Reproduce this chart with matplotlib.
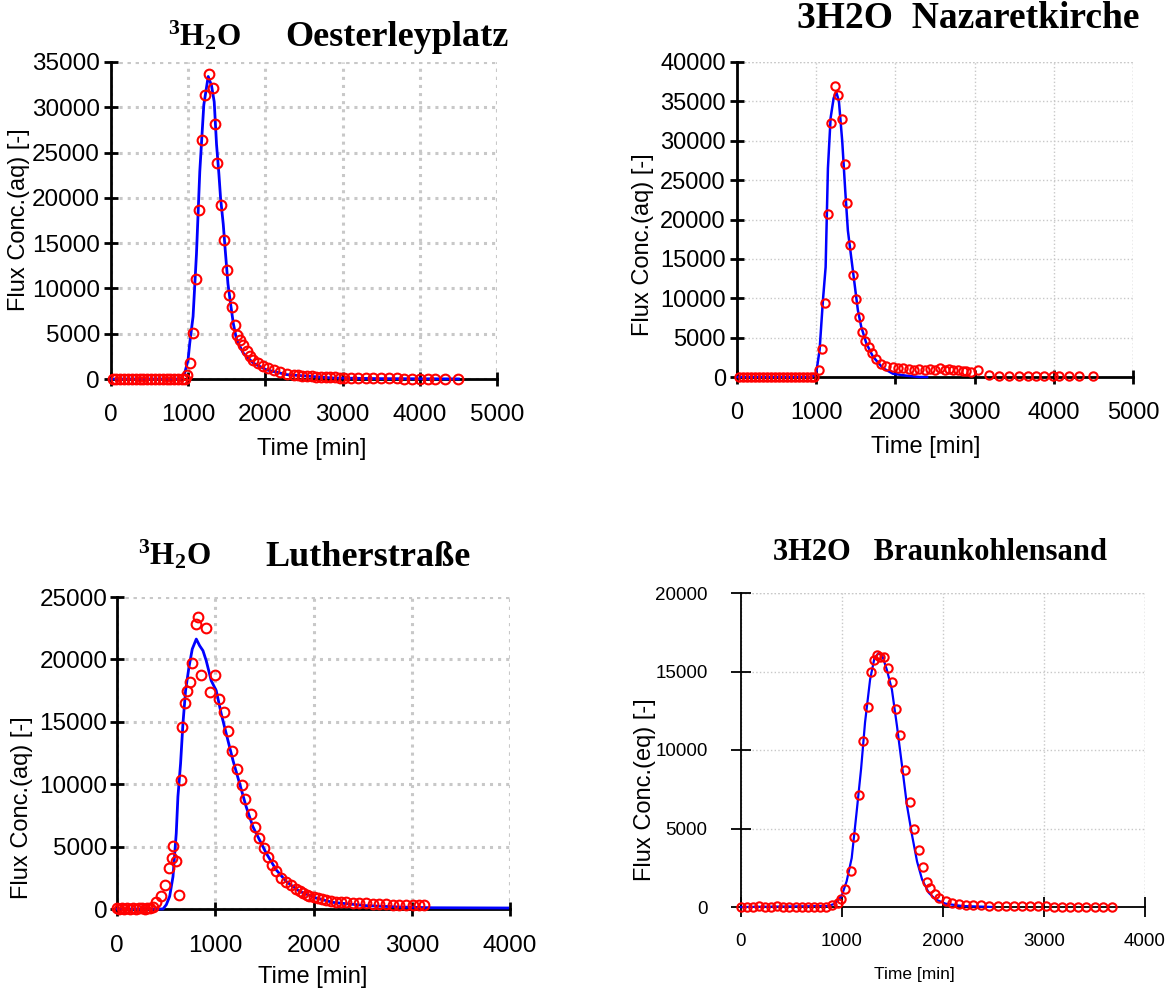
import matplotlib
matplotlib.use("Agg")
import matplotlib.pyplot as plt

plt.rcParams["font.family"] = ["Liberation Sans", "DejaVu Sans"]
plt.rcParams["mathtext.fontset"] = "custom"
plt.rcParams["mathtext.rm"] = "Liberation Serif"
plt.rcParams["mathtext.bf"] = "Liberation Serif:bold"

# --- Oesterleyplatz ---
obs_t_oest = [20, 70, 120, 170, 220, 270, 320, 370, 420, 470, 520, 570, 620, 670, 720, 770,
              820, 870, 920, 960, 985, 1020, 1063, 1107, 1141, 1176, 1215, 1263, 1315, 1350,
              1376, 1428, 1467, 1497, 1523, 1562, 1606, 1628, 1671, 1714, 1758, 1801, 1845,
              1910, 1975, 2040, 2105, 2192, 2279, 2365, 2420, 2480, 2540, 2600, 2660, 2720,
              2780, 2840, 2900, 2960, 3020, 3110, 3200, 3300, 3400, 3500, 3600, 3700, 3800,
              3900, 4000, 4100, 4200, 4330, 4490]
obs_c_oest = [0, 0, 0, 0, 0, 0, 0, 0, 0, 0, 0, 0, 0, 0, 0, 0,
              0, 0, 0, 0, 475, 1750, 5040, 11000, 18700, 26400, 31400, 33700, 32100, 28200,
              23900, 19250, 15300, 12050, 9250, 7950, 5950, 4850, 4300, 3750, 3050, 2500, 2100,
              1750, 1400, 1200, 950, 730, 590, 480, 400, 350, 320, 280, 250, 230,
              210, 190, 170, 150, 140, 120, 110, 100, 90, 80, 70, 60, 50,
              45, 40, 35, 30, 25, 20]
mod_t_oest = [0, 900, 955, 998, 1020, 1063, 1107, 1150, 1202, 1259, 1302, 1337, 1367, 1398,
              1419, 1454, 1480, 1515, 1549, 1584, 1628, 1714, 1845, 2018, 2279, 2886, 3500, 4500]
mod_c_oest = [0, 0, 660, 2100, 3950, 6900, 13800, 22900, 30250, 33400, 32400, 30600, 25900,
              22600, 20000, 17100, 14200, 10500, 8300, 6150, 4300, 2850, 1750, 1000, 480, 110, 40, 10]

# --- Nazaretkirche ---
obs_t_naz = [30, 80, 130, 180, 230, 280, 330, 380, 430, 480, 530, 580, 630, 680, 730, 780,
             830, 880, 930, 970, 1034, 1077, 1114, 1152, 1182, 1232, 1274, 1320, 1358, 1383,
             1430, 1468, 1505, 1543, 1581, 1619, 1661, 1703, 1758, 1821, 1884, 1968, 2030,
             2100, 2170, 2240, 2304, 2370, 2440, 2500, 2557, 2620, 2680, 2725, 2790, 2850,
             2893, 2960, 3040, 3187, 3313, 3440, 3566, 3671, 3776, 3881, 3987, 4071, 4197,
             4323, 4491]
obs_c_naz = [0, 0, 0, 0, 0, 0, 0, 0, 0, 0, 0, 0, 0, 0, 0, 0,
             0, 0, 0, 0, 840, 3570, 9450, 20700, 32200, 36900, 35800, 32700, 27000, 22100,
             16800, 13000, 9900, 7650, 5750, 4600, 3750, 3050, 2250, 1700, 1450, 1250, 1150,
             1100, 1000, 950, 1000, 900, 1050, 950, 1150, 900, 1000, 850, 900, 750,
             700, 650, 850, 200, 180, 160, 150, 130, 120, 110, 100, 90, 80,
             75, 70]
mod_t_naz = [0, 950, 1000, 1043, 1085, 1119, 1148, 1182, 1220, 1253, 1287, 1329, 1367, 1400,
             1442, 1484, 1526, 1568, 1632, 1716, 1842, 1968, 2136, 2304, 2400]
mod_c_naz = [0, 0, 500, 3450, 9750, 13950, 26500, 32900, 35400, 36200, 35000, 29900, 23600,
             18600, 15200, 11850, 8500, 6400, 4300, 2600, 1130, 420, 170, 0, 0]

# --- Lutherstrasse ---
obs_t_luth = [0, 25, 50, 75, 100, 130, 160, 190, 220, 250, 280, 310, 340, 370, 400, 444,
              492, 525, 563, 569, 597, 631, 647, 664, 692, 715, 739, 759, 807, 827, 858, 902,
              942, 993, 1037, 1088, 1129, 1173, 1224, 1271, 1305, 1359, 1403, 1444, 1492,
              1539, 1580, 1620, 1671, 1722, 1773, 1824, 1860, 1892, 1930, 1959, 2000, 2044,
              2085, 2129, 2180, 2231, 2280, 2332, 2400, 2468, 2530, 2604, 2670, 2739, 2810,
              2875, 2940, 3010, 3070, 3129]
obs_c_luth = [50, 0, 100, 0, 80, 0, 120, 0, 60, 100, 0, 80, 50, 150, 530, 1010,
              1940, 3270, 4070, 5050, 3860, 1090, 10300, 14600, 16500, 17500, 18200, 19750,
              22800, 23400, 18750, 22500, 17400, 18750, 16800, 15750, 14250, 12700, 11200,
              9900, 8800, 7650, 6550, 5700, 4900, 4150, 3550, 3050, 2450, 2200, 1950, 1600,
              1450, 1300, 1150, 1050, 950, 880, 800, 750, 680, 600, 560, 530, 500, 480, 450,
              430, 400, 370, 350, 340, 330, 320, 300, 290]
mod_t_luth = [0, 468, 502, 536, 570, 603, 620, 647, 671, 698, 732, 766, 807, 841, 875, 908,
              959, 1010, 1061, 1112, 1180, 1248, 1315, 1383, 1451, 1519, 1620, 1722, 1858,
              2027, 2197, 2536, 2875, 3214, 3976]
mod_c_luth = [0, 0, 345, 1010, 2600, 6060, 9000, 11650, 14840, 17500, 19360, 20830, 21630,
              21100, 20700, 19900, 18300, 17500, 15640, 14040, 11920, 10050, 8190, 6600,
              5530, 4470, 3140, 2210, 1410, 880, 530, 270, 160, 100, 80]

# --- Braunkohlensand ---
obs_t_brk = [0, 60, 120, 180, 240, 300, 360, 420, 480, 540, 600, 660, 720, 780, 840, 900,
             963, 989, 1029, 1086, 1122, 1169, 1205, 1255, 1285, 1318, 1351, 1378, 1418, 1454,
             1494, 1537, 1577, 1627, 1670, 1716, 1760, 1799, 1843, 1876, 1919, 1965, 2025,
             2092, 2160, 2230, 2300, 2380, 2460, 2540, 2620, 2700, 2780, 2860, 2940, 3020,
             3100, 3180, 3260, 3340, 3420, 3500, 3580, 3669]
obs_c_brk = [0, 0, 0, 50, 0, 0, 50, 0, 0, 0, 0, 0, 0, 0, 0, 100,
             270, 480, 1120, 2270, 4480, 7160, 10600, 12750, 14950, 15750, 16050, 15900,
             15900, 15200, 14300, 12600, 10950, 8750, 6700, 4950, 3650, 2550, 1600, 1200,
             800, 550, 380, 270, 200, 150, 120, 100, 90, 80, 70, 60, 50, 50, 40, 40,
             30, 30, 30, 20, 20, 20, 10, 10]
mod_t_brk = [0, 863, 930, 996, 1046, 1096, 1145, 1189, 1228, 1278, 1321, 1361, 1401, 1444,
             1494, 1544, 1594, 1643, 1693, 1743, 1793, 1859, 1926, 2025, 2191, 2500]
mod_c_brk = [0, 63, 210, 695, 1640, 3115, 6060, 8800, 11750, 14480, 15850, 16170, 15960,
             15110, 13850, 11540, 9010, 6480, 4590, 2900, 1750, 905, 484, 210, 63, 0]

W, H = 1175, 992
fig = plt.figure(figsize=(W / 100, H / 100), dpi=100)


def px_box(left, top, right, bottom):
    return [left / W, 1 - bottom / H, (right - left) / W, (bottom - top) / H]


def px(x, y):
    return x / W, 1 - y / H


def panel(box, t_obs, c_obs, t_mod, c_mod, xmax, ymax, ystep, fs, grid_lw, lw, ms,
          xpad, ypad, ticklen):
    ax = fig.add_axes(px_box(*box))
    ax.plot(t_mod, c_mod, color="#0000ff", lw=lw, zorder=3, clip_on=False)
    ax.plot(t_obs, c_obs, ls="none", marker="o", ms=ms, mfc="none", mec="#ff0000",
            mew=1.5, zorder=4, clip_on=False)
    ax.set_xlim(0, xmax)
    ax.set_ylim(0, ymax)
    ax.set_xticks(range(0, xmax + 1, 1000))
    ax.set_yticks(range(0, ymax + 1, ystep))
    for s in ("top", "right"):
        ax.spines[s].set_visible(False)
    thick = 2 if fs > 15 else 1.3
    for s in ("left", "bottom"):
        ax.spines[s].set_linewidth(thick)
    ax.grid(True, color="#c8c8c8", linestyle=":", linewidth=grid_lw, zorder=0)
    ax.plot([0, xmax], [ymax, ymax], color="#c8c8c8", ls=":", lw=grid_lw, zorder=0)
    ax.plot([xmax, xmax], [0, ymax], color="#c8c8c8", ls=":", lw=grid_lw, zorder=0)
    ax.tick_params(direction="inout", length=ticklen, width=thick, labelsize=fs)
    ax.tick_params(axis="x", pad=xpad)
    ax.tick_params(axis="y", pad=ypad)
    return ax


ax1 = panel((111, 62, 497, 379), obs_t_oest, obs_c_oest, mod_t_oest, mod_c_oest,
            5000, 35000, 5000, 17.5, 2.2, 2.0, 7, 13, 3, 10)
ax2 = panel((737, 62, 1133, 377), obs_t_naz, obs_c_naz, mod_t_naz, mod_c_naz,
            5000, 40000, 5000, 17, 1.0, 1.8, 6, 13, 3, 10)
ax3 = panel((117, 597, 510, 909), obs_t_luth, obs_c_luth, mod_t_luth, mod_c_luth,
            4000, 25000, 5000, 17.5, 2.2, 2.0, 7, 14, 2, 10)
ax4 = panel((741, 593, 1145, 907), obs_t_brk, obs_c_brk, mod_t_brk, mod_c_brk,
            4000, 20000, 5000, 13.5, 1.0, 1.6, 6, 12, 17, 14)

# axis labels
fig.text(*px(312, 449), "Time [min]", fontsize=17, ha="center", va="center")
fig.text(*px(926, 447), "Time [min]", fontsize=17, ha="center", va="center")
fig.text(*px(313, 977), "Time [min]", fontsize=17, ha="center", va="center")
fig.text(*px(914, 975), "Time [min]", fontsize=12.5, ha="center", va="center")
fig.text(*px(19, 220), "Flux Conc.(aq) [-]", fontsize=17, rotation=90, ha="center", va="center")
fig.text(*px(643, 245), "Flux Conc.(aq) [-]", fontsize=17, rotation=90, ha="center", va="center")
fig.text(*px(22, 808), "Flux Conc.(aq) [-]", fontsize=17, rotation=90, ha="center", va="center")
fig.text(*px(645, 790), "Flux Conc.(eq) [-]", fontsize=17, rotation=90, ha="center", va="center")

# titles
serif = ["Liberation Serif", "DejaVu Serif"]
fig.text(*px(168, 36), r"$\mathbf{{}^{3}H_{2}O}$", fontsize=22.5, ha="left", va="center")
fig.text(*px(285, 37), "Oesterleyplatz", fontsize=26, fontweight="bold", family=serif,
         ha="left", va="center")
fig.text(*px(797, 18), "3H2O  Nazaretkirche", fontsize=27, fontweight="bold", family=serif,
         ha="left", va="center")
fig.text(*px(138, 555), r"$\mathbf{{}^{3}H_{2}O}$", fontsize=22.5, ha="left", va="center")
fig.text(*px(265, 557), "Lutherstraße", fontsize=26, fontweight="bold", family=serif,
         ha="left", va="center")
fig.text(*px(773, 552), "3H2O   Braunkohlensand", fontsize=22, fontweight="bold", family=serif,
         ha="left", va="center")

fig.savefig("out.png", dpi=100)
